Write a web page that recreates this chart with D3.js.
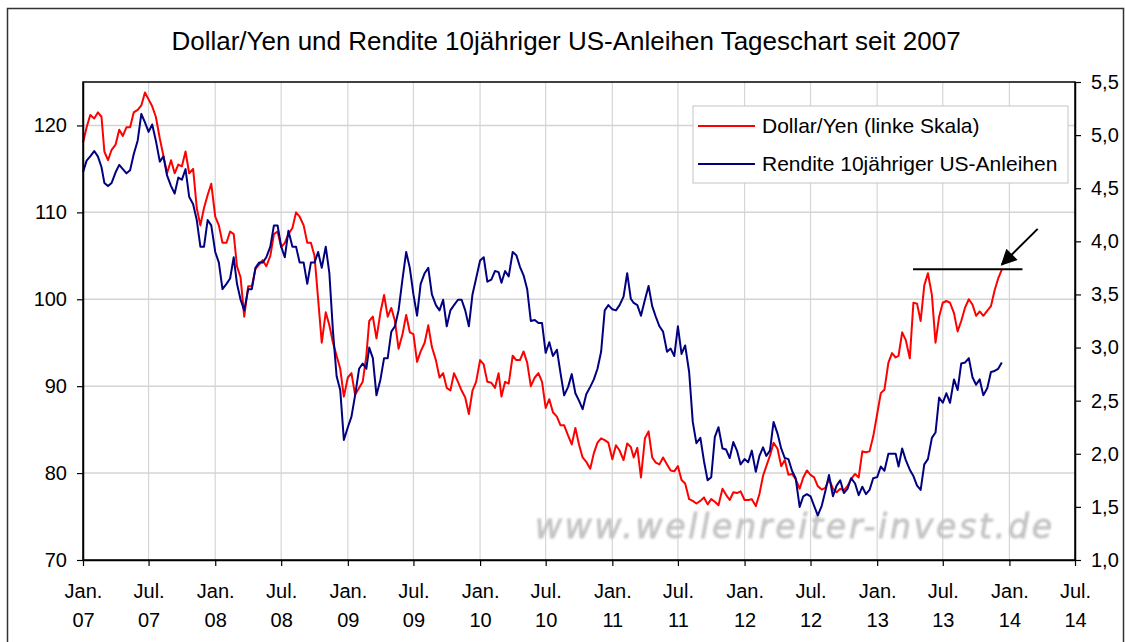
<!DOCTYPE html>
<html>
<head>
<meta charset="utf-8">
<script src="https://cdn.jsdelivr.net/npm/d3@7"></script>
<style>
  body { margin: 0; background: #fff; }
  svg text { font-family: "Liberation Sans", Arial, sans-serif; fill: #000; }
</style>
</head>
<body>
<svg id="chart" width="1125" height="642"></svg>
<script>
// chart texts
var chartTitle = "Dollar/Yen und Rendite 10jähriger US-Anleihen Tageschart seit 2007";
var seriesNames = ["Dollar/Yen (linke Skala)", "Rendite 10jähriger US-Anleihen"];
var watermark = "www.wellenreiter-invest.de";
var halfYearNames = ["Jan.", "Jul."];

// axis ticks
var leftTicks = [70, 80, 90, 100, 110, 120];
var rightTicks = [1.0, 1.5, 2.0, 2.5, 3.0, 3.5, 4.0, 4.5, 5.0, 5.5];

// values, 3 per month (1st, 11th, 21st)
var sampleDays = [1, 11, 21];

var yen2007 = [118.0,119.8,121.2, 120.8,121.5,121.0, 117.0,116.0,117.2, 117.8,119.5,118.8, 119.8,119.8,121.5, 121.8,122.3,123.8,
               123.0,122.2,121.0, 118.5,116.5,114.5, 116.0,114.5,115.5, 115.3,117.0,114.5, 115.0,110.5,108.5, 110.5,112.0,113.3];
var yen2008 = [109.5,108.5,106.5, 106.5,107.8,107.5, 103.8,102.5,98.0, 101.5,101.5,103.5, 104.0,104.5,103.8, 105.0,107.5,107.8,
               106.0,106.5,107.5, 108.2,110.0,109.5, 108.5,106.5,106.5, 105.0,100.0,95.0, 98.5,97.0,95.0, 93.5,92.0,88.8];
var yen2009 = [91.0,91.5,89.0, 89.8,90.5,93.5, 97.5,98.0,95.5, 98.5,100.5,98.0, 99.0,97.5,94.3, 96.0,98.2,96.2,
               96.0,92.8,94.0, 95.0,97.0,94.5, 93.0,91.0,91.5, 89.8,89.5,91.5, 90.5,89.5,88.7, 86.8,89.5,90.5];
var yen2010 = [93.0,92.5,90.5, 90.4,89.8,91.5, 88.8,90.5,90.3, 93.5,93.0,93.0, 94.0,92.7,90.0, 91.0,91.5,90.5,
               87.5,88.5,87.0, 86.5,85.5,85.5, 84.3,83.3,85.2, 83.3,81.8,81.3, 80.5,82.3,83.5, 84.0,83.8,83.5];
var yen2011 = [81.6,83.2,82.6, 81.5,83.4,83.0, 81.8,82.9,79.5, 84.0,84.8,81.8, 81.2,81.0,81.8, 81.0,80.3,80.2,
               80.8,79.2,78.8, 77.0,76.8,76.5, 76.8,77.2,76.4, 77.0,76.7,76.3, 78.2,77.5,76.9, 77.8,77.7,77.9];
var yen2012 = [76.9,76.9,77.0, 76.2,77.6,79.7, 80.8,82.0,83.5, 82.8,80.8,81.5, 79.8,79.9,79.3, 78.2,79.5,80.3,
               79.8,79.5,78.5, 78.1,78.3,79.3, 78.2,77.8,78.2, 78.0,78.5,79.3, 79.9,79.5,82.5, 82.4,82.5,84.2];
var yen2013 = [86.8,89.2,89.6, 92.7,93.8,93.3, 93.5,96.2,95.3, 93.2,99.6,99.5, 97.5,101.6,103.0, 100.5,95.0,98.0,
               99.6,99.8,99.6, 98.4,96.3,97.5, 99.1,100.0,99.4, 98.1,98.6,98.1, 98.7,99.2,101.0, 102.4,103.4];

var rendite2007 = [4.65,4.76,4.80, 4.85,4.80,4.70, 4.55,4.52,4.55, 4.65,4.72,4.68, 4.64,4.67,4.82, 4.95,5.20,5.12,
                   5.03,5.10,4.95, 4.75,4.80,4.62, 4.52,4.45,4.60, 4.58,4.68,4.42, 4.35,4.20,3.95, 3.95,4.20,4.15];
var rendite2008 = [3.90,3.80,3.55, 3.60,3.65,3.85, 3.60,3.45,3.35, 3.55,3.55,3.75, 3.80,3.80,3.85, 3.95,4.15,4.15,
                   3.95,3.85,4.10, 3.95,3.95,3.80, 3.80,3.60,3.80, 3.80,3.90,3.75, 3.95,3.70,3.15, 2.73,2.60,2.13];
var rendite2009 = [2.25,2.35,2.55, 2.80,2.85,2.80, 3.00,2.90,2.55, 2.70,2.90,2.90, 3.15,3.20,3.35, 3.65,3.90,3.75,
                   3.50,3.30,3.60, 3.70,3.75,3.50, 3.40,3.35,3.45, 3.20,3.35,3.40, 3.45,3.45,3.35, 3.20,3.50,3.65];
var rendite2010 = [3.82,3.85,3.62, 3.64,3.72,3.71, 3.61,3.72,3.67, 3.90,3.87,3.76, 3.68,3.55,3.25, 3.26,3.23,3.23,
                   2.95,3.05,2.92, 2.98,2.76,2.55, 2.63,2.75,2.57, 2.50,2.42,2.56, 2.63,2.70,2.80, 2.96,3.35,3.40];
var rendite2011 = [3.36,3.35,3.40, 3.48,3.70,3.46, 3.42,3.40,3.30, 3.45,3.58,3.39, 3.29,3.20,3.15, 2.96,2.99,2.92,
                   3.20,2.94,3.02, 2.77,2.30,2.10, 2.15,1.93,1.75, 1.78,2.16,2.25, 2.05,2.04,1.96, 2.11,2.03,1.90];
var rendite2012 = [1.95,1.92,2.03, 1.83,1.98,2.06, 1.98,2.03,2.30, 2.19,2.05,1.96, 1.95,1.84,1.77, 1.50,1.60,1.62,
                   1.60,1.51,1.42, 1.51,1.65,1.80, 1.60,1.70,1.75, 1.63,1.67,1.77, 1.72,1.61,1.69, 1.62,1.66,1.77];
var rendite2013 = [1.78,1.88,1.84, 2.00,2.00,2.00, 1.88,2.05,1.94, 1.85,1.79,1.70, 1.66,1.90,1.95, 2.15,2.20,2.53,
                   2.48,2.57,2.48, 2.70,2.60,2.85, 2.86,2.90,2.72, 2.65,2.70,2.55, 2.62,2.77,2.78, 2.80,2.86];

// annotation: resistance line at the May 2013 high plus arrow
var resistanceLevel = 103.45;
var resistanceFrom = "2013-04-10", resistanceTo = "2014-02-06";
var arrowFrom = ["2014-03-20", 108.1], arrowTo = ["2013-12-11", 104.0];

var yenByYear = [[2007, yen2007], [2008, yen2008], [2009, yen2009], [2010, yen2010], [2011, yen2011], [2012, yen2012], [2013, yen2013]];
var renditeByYear = [[2007, rendite2007], [2008, rendite2008], [2009, rendite2009], [2010, rendite2010], [2011, rendite2011], [2012, rendite2012], [2013, rendite2013]];

(function () {
    function toPoints(byYear) {
        return byYear.flatMap(function (d) {
            return d[1].map(function (v, i) {
                return {date: new Date(d[0], Math.floor(i / 3), sampleDays[i % 3]), value: v};
            });
        });
    }

    var yenData = toPoints(yenByYear);
    var renditeData = toPoints(renditeByYear);
    var parseDay = d3.timeParse("%Y-%m-%d");

    var svg = d3.select("#chart");
    var plotLeft = 83, plotRight = 1075, plotTop = 82, plotBottom = 560;

    var x = d3.scaleTime().domain([new Date(2007, 0, 1), new Date(2014, 6, 1)]).range([plotLeft, plotRight]);
    var yLeft = d3.scaleLinear().domain([70, 125]).range([plotBottom, plotTop]);
    var yRight = d3.scaleLinear().domain([1, 5.5]).range([plotBottom, plotTop]);
    var xTicks = x.ticks(d3.timeMonth.every(6));
    var deFormat = d3.formatLocale({decimal: ",", thousands: ".", grouping: [3], currency: ["", " €"]}).format(".1f");

    // outer frame
    svg.append("rect").attr("x", 7.5).attr("y", 8.5).attr("width", 1116).attr("height", 660)
        .attr("fill", "#fff").attr("stroke", "#333").attr("stroke-width", 1.5);

    svg.append("text").attr("x", 566).attr("y", 50).attr("text-anchor", "middle")
        .style("font-size", "26px").text(chartTitle);

    // grid
    svg.append("g").selectAll("line").data(xTicks.slice(1, -1)).enter().append("line")
        .attr("x1", function (d) { return x(d); }).attr("x2", function (d) { return x(d); })
        .attr("y1", plotTop).attr("y2", plotBottom)
        .attr("stroke", "#d6d6d6").attr("stroke-width", 1.2);
    svg.append("g").selectAll("line").data(leftTicks.slice(1)).enter().append("line")
        .attr("x1", plotLeft).attr("x2", plotRight)
        .attr("y1", function (d) { return yLeft(d); }).attr("y2", function (d) { return yLeft(d); })
        .attr("stroke", "#d4d4d4").attr("stroke-width", 1.5);

    // watermark
    svg.append("defs").append("filter").attr("id", "soft")
        .append("feGaussianBlur").attr("stdDeviation", 0.8);
    svg.append("text").attr("x", 535).attr("y", 538)
        .attr("textLength", 517).attr("lengthAdjust", "spacing").attr("filter", "url(#soft)")
        .style("font-family", "'DejaVu Sans', Verdana, sans-serif")
        .style("font-size", "33px").style("font-style", "italic")
        .style("fill", "#c4c4c4").style("stroke", "#c4c4c4").style("stroke-width", 0.8)
        .text(watermark);

    // series
    var yenLine = d3.line().x(function (d) { return x(d.date); }).y(function (d) { return yLeft(d.value); });
    var renditeLine = d3.line().x(function (d) { return x(d.date); }).y(function (d) { return yRight(d.value); });

    svg.append("path").datum(yenData).attr("d", yenLine)
        .attr("fill", "none").attr("stroke", "#ff0000").attr("stroke-width", 2).attr("stroke-linejoin", "round");
    svg.append("path").datum(renditeData).attr("d", renditeLine)
        .attr("fill", "none").attr("stroke", "#000080").attr("stroke-width", 2).attr("stroke-linejoin", "round");

    // plot frame
    svg.append("rect").attr("x", plotLeft).attr("y", plotTop)
        .attr("width", plotRight - plotLeft).attr("height", plotBottom - plotTop)
        .attr("fill", "none").attr("stroke", "#000").attr("stroke-width", 1.5);

    // axes
    var leftAxis = svg.append("g").attr("transform", "translate(" + plotLeft + ",0)")
        .call(d3.axisLeft(yLeft).tickValues(leftTicks).tickSize(6).tickSizeOuter(0).tickPadding(10));
    var rightAxis = svg.append("g").attr("transform", "translate(" + plotRight + ",0)")
        .call(d3.axisRight(yRight).tickValues(rightTicks).tickSize(6).tickSizeOuter(0).tickPadding(10).tickFormat(deFormat));
    var bottomAxis = svg.append("g").attr("transform", "translate(0," + plotBottom + ")")
        .call(d3.axisBottom(x).tickValues(xTicks).tickSize(6).tickSizeOuter(0).tickFormat(""));

    [leftAxis, rightAxis, bottomAxis].forEach(function (g) {
        g.attr("font-family", null).attr("font-size", null);
        g.select(".domain").attr("stroke", "#000").attr("stroke-width", 1.5);
        g.selectAll(".tick line").attr("stroke", "#000").attr("stroke-width", 1.2);
        g.selectAll("text").style("font-size", "20px");
    });

    bottomAxis.selectAll(".tick").append("text")
        .attr("text-anchor", "middle").style("font-size", "20px")
        .each(function (d) {
            var t = d3.select(this);
            t.append("tspan").attr("x", 0).attr("y", 38).text(halfYearNames[d.getMonth() === 0 ? 0 : 1]);
            t.append("tspan").attr("x", 0).attr("y", 67).text(d3.timeFormat("%y")(d));
        });

    // legend
    var legend = svg.append("g").attr("transform", "translate(693,106)");
    legend.append("rect").attr("width", 375).attr("height", 77)
        .attr("fill", "#fff").attr("stroke", "#c4c4c4").attr("stroke-width", 1);
    [["#ff0000", 20], ["#000080", 58]].forEach(function (s, i) {
        legend.append("line").attr("x1", 5).attr("x2", 62).attr("y1", s[1]).attr("y2", s[1])
            .attr("stroke", s[0]).attr("stroke-width", 2);
        legend.append("text").attr("x", 69).attr("y", s[1] + 7).style("font-size", "21px").text(seriesNames[i]);
    });

    // annotation
    svg.select("defs").append("marker").attr("id", "arrowhead")
        .attr("viewBox", "0 0 10 10").attr("refX", 9).attr("refY", 5)
        .attr("markerWidth", 9).attr("markerHeight", 8).attr("markerUnits", "strokeWidth").attr("orient", "auto")
        .append("path").attr("d", "M0,0 L10,5 L0,10 Z").attr("fill", "#000");

    svg.append("line")
        .attr("x1", x(parseDay(resistanceFrom))).attr("x2", x(parseDay(resistanceTo)))
        .attr("y1", yLeft(resistanceLevel)).attr("y2", yLeft(resistanceLevel))
        .attr("stroke", "#000").attr("stroke-width", 2);
    svg.append("line")
        .attr("x1", x(parseDay(arrowFrom[0]))).attr("y1", yLeft(arrowFrom[1]))
        .attr("x2", x(parseDay(arrowTo[0]))).attr("y2", yLeft(arrowTo[1]))
        .attr("stroke", "#000").attr("stroke-width", 2).attr("marker-end", "url(#arrowhead)");
})();
</script>
</body>
</html>
